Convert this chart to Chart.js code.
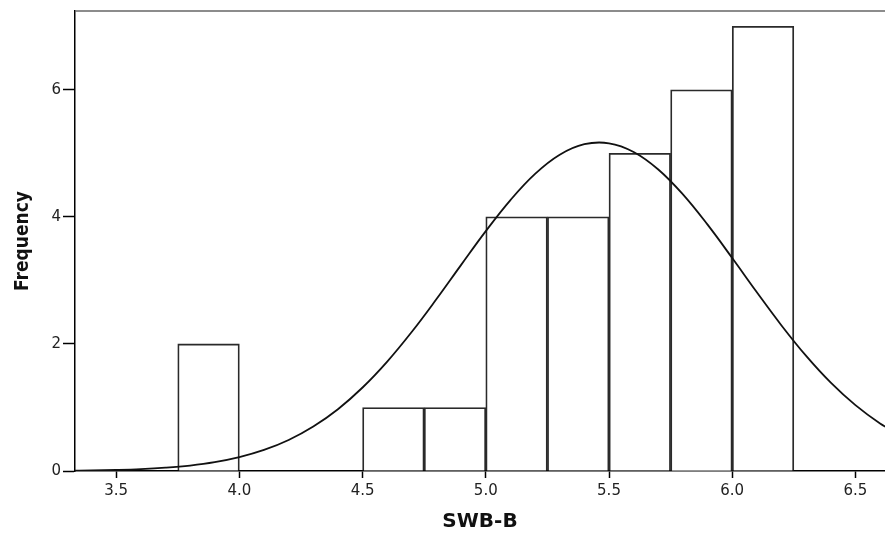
<!DOCTYPE html>
<html>
<head>
<meta charset="utf-8">
<script src="https://cdn.jsdelivr.net/npm/chart.js@4"></script>
<style>
  html, body { margin: 0; padding: 0; background: #fff; }
  #wrap { width: 885px; height: 538px; }
</style>
</head>
<body>
<div id="wrap"><canvas id="histChart" width="885" height="538"></canvas></div>
<script>
// histogram bins (centre of each 0.25-wide bin) and counts
const binCenters = [3.875, 4.625, 4.875, 5.125, 5.375, 5.625, 5.875, 6.125];
const binCounts = [2, 1, 1, 4, 4, 5, 6, 7];

// normal curve
const curveX = [3.3, 3.4, 3.5, 3.6, 3.7, 3.8, 3.9, 4.0, 4.1, 4.2, 4.3, 4.4, 4.5, 4.6, 4.7, 4.8, 4.9,
  5.0, 5.1, 5.2, 5.3, 5.4, 5.5, 5.6, 5.7, 5.8, 5.9, 6.0, 6.1, 6.2, 6.3, 6.4, 6.5, 6.6, 6.7];
const curveY = [0.005, 0.009, 0.017, 0.03, 0.052, 0.086, 0.139, 0.218, 0.331, 0.488, 0.70, 0.973,
  1.314, 1.722, 2.191, 2.706, 3.244, 3.775, 4.264, 4.676, 4.977, 5.143, 5.158, 5.022, 4.746,
  4.354, 3.877, 3.352, 2.813, 2.291, 1.811, 1.39, 1.036, 0.749, 0.526];

const xTicks = [3.5, 4.0, 4.5, 5.0, 5.5, 6.0, 6.5];
const yTicks = [0, 2, 4, 6];

const topLine = {
  id: "topLine",
  afterDatasetsDraw(chart) {
    const { ctx, chartArea } = chart;
    ctx.save();
    ctx.strokeStyle = "#666";
    ctx.lineWidth = 1.5;
    ctx.beginPath();
    ctx.moveTo(chartArea.left, chartArea.top);
    ctx.lineTo(chartArea.right, chartArea.top);
    ctx.stroke();
    ctx.restore();
  }
};

const ctx = document.getElementById("histChart").getContext("2d");
new Chart(ctx, {
  type: "bar",
  data: {
    datasets: [
      {
        type: "line",
        data: curveX.map((x, i) => ({ x, y: curveY[i] })),
        borderColor: "#111",
        borderWidth: 1.8,
        pointRadius: 0,
        tension: 0.4,
        fill: false,
        order: 0
      },
      {
        data: binCenters.map((x, i) => ({ x, y: binCounts[i] })),
        backgroundColor: "#fff",
        borderColor: "#2a2a2a",
        borderWidth: 1.8,
        barPercentage: 1,
        categoryPercentage: 1,
        order: 1
      }
    ]
  },
  options: {
    responsive: false,
    animation: false,
    layout: { padding: 0 },
    plugins: { legend: { display: false }, tooltip: { enabled: false } },
    scales: {
      x: {
        type: "linear",
        offset: false,
        min: 3.333,
        max: 6.62,
        afterBuildTicks: (s) => { s.ticks = xTicks.map(v => ({ value: v })); },
        afterFit: (s) => { s.height = 67; },
        grid: { display: true, offset: false, drawOnChartArea: false, tickLength: 7, tickColor: "#000", tickWidth: 1.5 },
        border: { color: "#000", width: 1.5 },
        ticks: {
          color: "#222",
          font: { family: "'DejaVu Sans', 'Liberation Sans'", size: 15 },
          padding: 4,
          maxRotation: 0,
          callback: (v) => Number(v).toFixed(1)
        },
        title: {
          display: true,
          text: "SWB-B",
          color: "#111",
          font: { family: "'DejaVu Sans', 'Liberation Sans'", size: 20, weight: "bold" },
          padding: { top: 6 }
        }
      },
      y: {
        min: 0,
        max: 7.24,
        afterBuildTicks: (s) => { s.ticks = yTicks.map(v => ({ value: v })); },
        afterFit: (s) => { s.width = 75; },
        grid: { display: true, drawOnChartArea: false, tickLength: 12, tickColor: "#000", tickWidth: 1.5 },
        border: { color: "#000", width: 1.5 },
        ticks: {
          color: "#222",
          font: { family: "'DejaVu Sans', 'Liberation Sans'", size: 15 },
          padding: 2
        },
        title: {
          display: true,
          text: "Frequency",
          color: "#111",
          font: { family: "'DejaVu Sans Condensed', 'Liberation Sans'", size: 19, weight: "bold" },
          padding: { top: 12, bottom: 6 }
        }
      }
    }
  },
  plugins: [topLine]
});
</script>
</body>
</html>
